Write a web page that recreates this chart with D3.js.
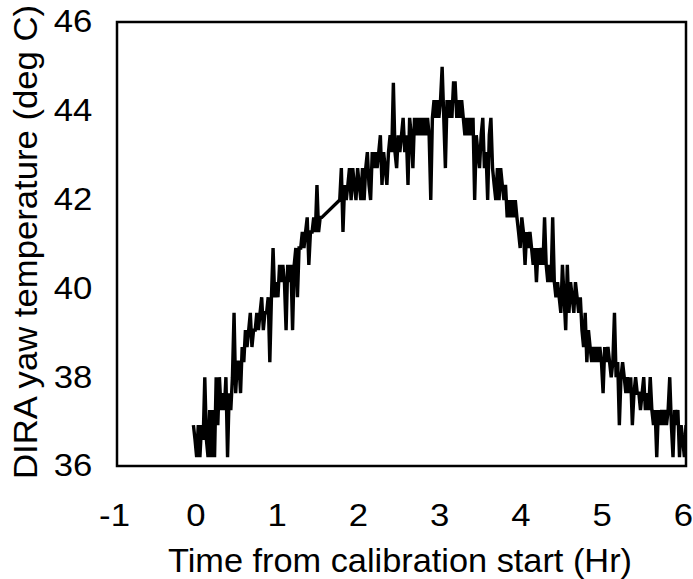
<!DOCTYPE html>
<html>
<head>
<meta charset="utf-8">
<script src="https://cdn.jsdelivr.net/npm/d3@7"></script>
<style>
  html, body { margin: 0; padding: 0; background: #fff; }
  svg { display: block; }
  text { font-family: "Liberation Sans", Arial, Helvetica, sans-serif; fill: #000; }
</style>
</head>
<body>
<svg id="chart" width="693" height="579"></svg>
<script>
// ---- data ----
const xTicks = [-1, 0, 1, 2, 3, 4, 5, 6];
const yTicks = [36, 38, 40, 42, 44, 46];
const xTitle = "Time from calibration start (Hr)";
const yTitle = "DIRA yaw temperature (deg C)";

// sample times (hours from calibration start)
const timeHr = [
  -0.06,-0.04,-0.02,0.00,0.02,0.04,
  0.06,0.08,0.10,0.12,0.14,0.16,
  0.18,0.20,0.22,0.24,0.26,0.28,
  0.30,0.32,0.34,0.36,0.38,0.40,
  0.42,0.44,0.46,0.48,
  0.50,0.52,0.54,0.56,
  0.58,0.60,0.62,0.64,0.66,0.68,
  0.70,0.72,0.74,0.76,0.78,0.80,0.82,
  0.84,0.86,0.88,0.90,
  0.92,0.94,0.96,0.98,
  1.00,1.02,1.04,1.06,1.08,1.10,1.12,1.14,1.16,
  1.18,1.20,1.22,1.24,
  1.26,1.28,1.30,1.32,1.34,1.36,1.38,
  1.40,1.42,1.44,1.46,1.48,1.50,1.52,
  1.74,1.76,1.78,1.80,1.82,1.84,
  1.86,1.88,1.90,1.92,1.94,1.96,1.98,2.00,2.02,2.04,
  2.06,2.08,2.10,2.12,2.14,2.16,2.18,
  2.20,2.22,2.24,2.26,2.28,2.30,2.32,
  2.34,2.36,2.38,2.40,2.42,2.44,2.46,2.48,2.50,2.52,2.54,2.56,
  2.58,2.60,2.62,2.64,2.66,2.68,2.70,2.72,2.74,2.76,2.78,2.80,2.82,2.84,2.86,
  2.88,2.90,2.92,2.94,2.96,2.98,
  3.00,3.02,3.04,3.06,3.08,3.10,3.12,3.14,3.16,3.18,3.20,3.22,3.24,3.26,
  3.28,3.30,3.32,3.34,3.36,3.38,3.40,3.42,
  3.44,3.46,3.48,3.50,3.52,3.54,3.56,3.58,3.60,3.62,
  3.64,3.66,3.68,3.70,3.72,3.74,3.76,3.78,
  3.80,3.82,3.84,3.86,3.88,3.90,3.92,
  3.94,3.96,3.98,4.00,4.02,4.04,4.06,4.08,
  4.10,4.12,4.14,4.16,4.18,4.20,4.22,4.24,4.26,4.28,
  4.30,4.32,4.34,4.36,4.38,4.40,4.42,
  4.44,4.46,4.48,4.50,4.52,4.54,4.56,4.58,4.60,4.62,4.64,4.66,4.68,4.70,
  4.72,4.74,4.76,4.78,4.80,4.82,4.84,
  4.86,4.88,4.90,4.92,4.94,4.96,4.98,5.00,5.02,5.04,
  5.06,5.08,5.10,5.12,5.14,5.16,5.18,5.20,5.22,5.24,
  5.26,5.28,5.30,5.32,5.34,5.36,5.38,5.40,5.42,
  5.44,5.46,5.48,5.50,5.52,5.54,5.56,5.58,
  5.60,5.62,5.64,5.66,5.68,5.70,5.72,5.74,5.76,5.78,5.80,5.82,5.84,5.86,5.88,5.90,
  5.92,5.94,5.96,5.98,6.00
];

// DIRA yaw temperature (deg C) at each sample time
const tempC = [
  36.92,36.59,36.20,36.92,36.20,36.92,
  36.59,38.00,36.59,36.20,37.26,36.20,
  37.26,36.20,38.00,36.92,38.00,37.26,
  37.64,37.26,38.00,36.20,37.64,37.26,
  38.00,39.45,37.64,38.34,
  38.34,37.64,38.68,38.34,
  39.06,38.68,39.06,39.45,38.68,39.06,
  39.06,39.45,39.06,39.45,39.80,39.06,39.45,
  39.45,39.80,38.34,39.80,
  40.91,39.80,40.14,39.80,
  40.53,40.14,40.53,40.14,39.06,40.53,40.14,40.53,39.06,
  40.53,40.91,39.80,40.91,
  40.91,41.27,40.91,41.27,41.60,40.53,41.27,
  41.27,41.60,41.27,42.33,41.27,41.60,41.60,
  41.99,42.71,41.27,42.33,41.99,42.33,
  42.71,41.99,42.71,42.33,41.99,42.71,42.33,41.99,42.71,41.99,
  42.71,43.07,42.33,41.99,43.07,42.71,43.07,
  42.71,43.07,43.45,42.33,43.07,42.71,42.33,
  43.07,43.45,43.07,44.63,43.07,42.71,43.45,43.07,43.45,43.84,43.07,43.45,
  42.33,43.84,43.45,42.71,43.84,43.45,43.84,43.45,43.84,43.45,43.84,43.45,43.84,43.45,41.99,
  43.84,44.24,43.84,44.24,43.84,44.24,
  44.99,43.84,42.71,44.24,43.84,44.24,43.84,44.63,44.63,43.84,44.24,43.84,44.24,43.84,
  43.45,43.84,43.45,43.84,43.45,43.84,41.99,43.45,
  43.07,42.71,43.45,43.84,42.71,43.07,41.99,43.45,43.84,42.71,
  42.33,41.99,42.71,41.99,42.71,42.33,41.99,42.33,
  41.60,41.99,41.60,41.99,41.60,41.99,41.60,
  41.27,40.91,41.60,41.27,40.53,41.27,40.91,41.27,
  40.91,40.53,40.91,40.14,40.91,40.53,40.91,40.53,41.60,40.53,
  40.14,40.53,40.14,41.60,40.14,39.80,40.14,
  39.80,39.45,40.53,39.80,39.06,40.53,39.45,40.14,39.80,39.45,40.14,39.80,39.45,39.80,
  39.06,38.68,39.45,38.34,39.06,38.68,38.34,
  38.68,38.34,38.68,38.34,38.68,38.34,37.64,38.68,38.34,38.68,
  38.34,38.00,38.34,39.45,38.00,38.34,36.92,38.00,38.34,38.00,
  37.64,38.00,37.64,38.00,36.92,37.64,38.00,37.64,37.64,
  37.26,37.64,38.00,37.26,37.64,37.26,38.00,37.26,
  36.92,37.26,36.20,37.26,36.92,37.26,36.92,37.26,36.92,37.26,38.00,36.92,36.20,37.26,36.92,37.26,
  36.20,36.92,36.59,36.20,36.92
];

// ---- layout ----
const svg = d3.select("#chart");
const plot = { left: 117, top: 22, width: 569, height: 444 };

const x = d3.scaleLinear().domain([-1, 6]).range([plot.left, plot.left + plot.width]);
const y = d3.scaleLinear().domain([36, 46]).range([plot.top + plot.height, plot.top]);

const data = timeHr.map((t, i) => ({ t: t, v: tempC[i] }));

svg.append("clipPath").attr("id", "clip")
  .append("rect")
  .attr("x", plot.left).attr("y", plot.top)
  .attr("width", plot.width).attr("height", plot.height);

// data line
const line = d3.line().x(d => x(d.t)).y(d => y(d.v));
svg.append("path")
  .datum(data)
  .attr("clip-path", "url(#clip)")
  .attr("d", line)
  .attr("fill", "none")
  .attr("stroke", "#000")
  .attr("stroke-width", 3.4)
  .attr("stroke-linejoin", "miter")
  .attr("stroke-miterlimit", 2);

// frame
svg.append("rect")
  .attr("x", plot.left).attr("y", plot.top)
  .attr("width", plot.width).attr("height", plot.height)
  .attr("fill", "none")
  .attr("stroke", "#000")
  .attr("stroke-width", 2.5);

// axes (labels only, no tick marks)
const tickFont = 31;
const stretch = 1.12;
const xAxis = d3.axisBottom(x).tickValues(xTicks).tickSize(0).tickPadding(38)
  .tickFormat(d => String(d));
const gx = svg.append("g")
  .attr("transform", `translate(-3,${plot.top + plot.height})`)
  .call(xAxis);
gx.select(".domain").remove();
gx.selectAll("text")
  .style("font-family", '"Liberation Sans", Arial, sans-serif')
  .style("font-size", tickFont + "px")
  .attr("fill", "#000")
  .attr("transform", `scale(${stretch},1)`);

const yAxis = d3.axisLeft(y).tickValues(yTicks).tickSize(0).tickPadding(22)
  .tickFormat(d => String(d));
const gy = svg.append("g")
  .attr("transform", `translate(${plot.left},0)`)
  .call(yAxis);
gy.select(".domain").remove();
gy.selectAll("text")
  .style("font-family", '"Liberation Sans", Arial, sans-serif')
  .style("font-size", tickFont + "px")
  .attr("fill", "#000")
  .attr("transform", `scale(${stretch},1)`);

// axis titles
svg.append("text")
  .attr("x", 400)
  .attr("y", 572)
  .attr("text-anchor", "middle")
  .attr("textLength", 464)
  .attr("lengthAdjust", "spacingAndGlyphs")
  .style("font-size", "34px")
  .text(xTitle);

svg.append("text")
  .attr("transform", `translate(37,242) rotate(-90)`)
  .attr("text-anchor", "middle")
  .attr("textLength", 474)
  .attr("lengthAdjust", "spacingAndGlyphs")
  .style("font-size", "33px")
  .text(yTitle);
</script>
</body>
</html>
